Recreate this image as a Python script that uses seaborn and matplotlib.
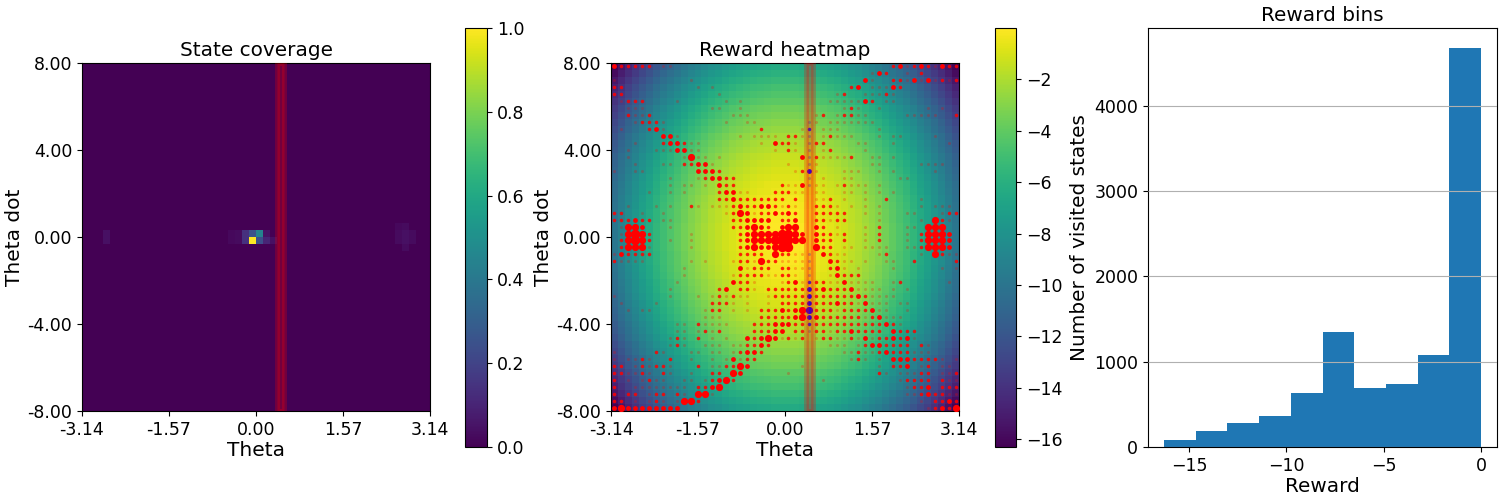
#Pendulum state coverage, reward heatmap and reward bins

import numpy as np
import pandas as pd
import matplotlib
matplotlib.use('Agg')
import matplotlib.pyplot as plt
import seaborn as sns

theta_ticks = ['-3.14', '-1.57', '0.00', '1.57', '3.14']
dot_ticks = ['8.00', '4.00', '0.00', '-4.00', '-8.00']

#State coverage, the few cells that are not zero (row from top, column from left)
coverage_rows = [24, 24, 24, 24, 24, 24, 25, 25, 25, 25, 25, 25, 25, 24, 25,
                 23, 23, 24, 24, 24, 25, 25, 25, 26]
coverage_cols = [21, 22, 23, 24, 25, 26, 21, 22, 23, 24, 25, 26, 27, 3, 3,
                 45, 46, 45, 46, 47, 45, 46, 47, 46]
coverage_vals = [0.02, 0.03, 0.14, 0.25, 0.45, 0.05, 0.02, 0.03, 0.14, 1.0, 0.24, 0.10, 0.04, 0.04, 0.04,
                 0.02, 0.03, 0.03, 0.04, 0.03, 0.03, 0.04, 0.03, 0.03]

#Reward loss in one quarter of the grid, from the centre out (rows theta dot, columns theta)
reward_loss = [
    [0.0, 0.0, 0.1, 0.2, 0.3, 0.5, 0.7, 0.9, 1.2, 1.5, 1.8, 2.2, 2.6, 3.0, 3.5, 4.0, 4.5, 5.0, 5.6, 6.3, 6.9, 7.6, 8.3, 9.1, 9.9],
    [0.0, 0.0, 0.1, 0.2, 0.3, 0.5, 0.7, 0.9, 1.2, 1.5, 1.8, 2.2, 2.6, 3.0, 3.5, 4.0, 4.5, 5.0, 5.6, 6.3, 6.9, 7.6, 8.3, 9.1, 9.9],
    [0.1, 0.1, 0.2, 0.3, 0.4, 0.6, 0.8, 1.0, 1.3, 1.6, 1.9, 2.3, 2.7, 3.1, 3.6, 4.1, 4.6, 5.1, 5.7, 6.4, 7.0, 7.7, 8.4, 9.2, 10.0],
    [0.1, 0.1, 0.2, 0.3, 0.4, 0.6, 0.8, 1.0, 1.3, 1.6, 1.9, 2.3, 2.7, 3.1, 3.6, 4.1, 4.6, 5.1, 5.7, 6.4, 7.0, 7.7, 8.4, 9.2, 10.0],
    [0.2, 0.2, 0.3, 0.4, 0.5, 0.7, 0.9, 1.1, 1.4, 1.7, 2.0, 2.4, 2.8, 3.2, 3.7, 4.2, 4.7, 5.2, 5.8, 6.5, 7.1, 7.8, 8.5, 9.3, 10.1],
    [0.3, 0.3, 0.4, 0.5, 0.6, 0.8, 1.0, 1.2, 1.5, 1.8, 2.1, 2.5, 2.9, 3.3, 3.8, 4.3, 4.8, 5.3, 5.9, 6.6, 7.2, 7.9, 8.6, 9.4, 10.2],
    [0.5, 0.5, 0.6, 0.7, 0.8, 1.0, 1.2, 1.4, 1.7, 2.0, 2.3, 2.7, 3.1, 3.5, 4.0, 4.5, 5.0, 5.5, 6.1, 6.8, 7.4, 8.1, 8.8, 9.6, 10.4],
    [0.6, 0.6, 0.7, 0.8, 0.9, 1.1, 1.3, 1.5, 1.8, 2.1, 2.4, 2.8, 3.2, 3.6, 4.1, 4.6, 5.1, 5.6, 6.2, 6.9, 7.5, 8.2, 8.9, 9.7, 10.5],
    [0.8, 0.8, 0.9, 1.0, 1.1, 1.3, 1.5, 1.7, 2.0, 2.3, 2.6, 3.0, 3.4, 3.8, 4.3, 4.8, 5.3, 5.8, 6.4, 7.1, 7.7, 8.4, 9.1, 9.9, 10.7],
    [1.0, 1.0, 1.1, 1.2, 1.3, 1.5, 1.7, 1.9, 2.2, 2.5, 2.8, 3.2, 3.6, 4.0, 4.5, 5.0, 5.5, 6.0, 6.6, 7.3, 7.9, 8.6, 9.3, 10.1, 10.9],
    [1.2, 1.2, 1.3, 1.4, 1.5, 1.7, 1.9, 2.1, 2.4, 2.7, 3.0, 3.4, 3.8, 4.2, 4.7, 5.2, 5.7, 6.2, 6.8, 7.5, 8.1, 8.8, 9.5, 10.3, 11.1],
    [1.4, 1.4, 1.5, 1.6, 1.7, 1.9, 2.1, 2.3, 2.6, 2.9, 3.2, 3.6, 4.0, 4.4, 4.9, 5.4, 5.9, 6.4, 7.0, 7.7, 8.3, 9.0, 9.7, 10.5, 11.3],
    [1.7, 1.7, 1.8, 1.9, 2.0, 2.2, 2.4, 2.6, 2.9, 3.2, 3.5, 3.9, 4.3, 4.7, 5.2, 5.7, 6.2, 6.7, 7.3, 8.0, 8.6, 9.3, 10.0, 10.8, 11.6],
    [1.9, 1.9, 2.0, 2.1, 2.2, 2.4, 2.6, 2.8, 3.1, 3.4, 3.7, 4.1, 4.5, 4.9, 5.4, 5.9, 6.4, 6.9, 7.5, 8.2, 8.8, 9.5, 10.2, 11.0, 11.8],
    [2.2, 2.2, 2.3, 2.4, 2.5, 2.7, 2.9, 3.1, 3.4, 3.7, 4.0, 4.4, 4.8, 5.2, 5.7, 6.2, 6.7, 7.2, 7.8, 8.5, 9.1, 9.8, 10.5, 11.3, 12.1],
    [2.6, 2.6, 2.7, 2.8, 2.9, 3.1, 3.3, 3.5, 3.8, 4.1, 4.4, 4.8, 5.2, 5.6, 6.1, 6.6, 7.1, 7.6, 8.2, 8.9, 9.5, 10.2, 10.9, 11.7, 12.5],
    [2.9, 2.9, 3.0, 3.1, 3.2, 3.4, 3.6, 3.8, 4.1, 4.4, 4.7, 5.1, 5.5, 5.9, 6.4, 6.9, 7.4, 7.9, 8.5, 9.2, 9.8, 10.5, 11.2, 12.0, 12.8],
    [3.3, 3.3, 3.4, 3.5, 3.6, 3.8, 4.0, 4.2, 4.5, 4.8, 5.1, 5.5, 5.9, 6.3, 6.8, 7.3, 7.8, 8.3, 8.9, 9.6, 10.2, 10.9, 11.6, 12.4, 13.2],
    [3.6, 3.6, 3.7, 3.8, 3.9, 4.1, 4.3, 4.5, 4.8, 5.1, 5.4, 5.8, 6.2, 6.6, 7.1, 7.6, 8.1, 8.6, 9.2, 9.9, 10.5, 11.2, 11.9, 12.7, 13.5],
    [4.1, 4.1, 4.2, 4.3, 4.4, 4.6, 4.8, 5.0, 5.3, 5.6, 5.9, 6.3, 6.7, 7.1, 7.6, 8.1, 8.6, 9.1, 9.7, 10.4, 11.0, 11.7, 12.4, 13.2, 14.0],
    [4.5, 4.5, 4.6, 4.7, 4.8, 5.0, 5.2, 5.4, 5.7, 6.0, 6.3, 6.7, 7.1, 7.5, 8.0, 8.5, 9.0, 9.5, 10.1, 10.8, 11.4, 12.1, 12.8, 13.6, 14.4],
    [4.9, 4.9, 5.0, 5.1, 5.2, 5.4, 5.6, 5.8, 6.1, 6.4, 6.7, 7.1, 7.5, 7.9, 8.4, 8.9, 9.4, 9.9, 10.5, 11.2, 11.8, 12.5, 13.2, 14.0, 14.8],
    [5.4, 5.4, 5.5, 5.6, 5.7, 5.9, 6.1, 6.3, 6.6, 6.9, 7.2, 7.6, 8.0, 8.4, 8.9, 9.4, 9.9, 10.4, 11.0, 11.7, 12.3, 13.0, 13.7, 14.5, 15.3],
    [5.9, 5.9, 6.0, 6.1, 6.2, 6.4, 6.6, 6.8, 7.1, 7.4, 7.7, 8.1, 8.5, 8.9, 9.4, 9.9, 10.4, 10.9, 11.5, 12.2, 12.8, 13.5, 14.2, 15.0, 15.8],
    [6.4, 6.4, 6.5, 6.6, 6.7, 6.9, 7.1, 7.3, 7.6, 7.9, 8.2, 8.6, 9.0, 9.4, 9.9, 10.4, 10.9, 11.4, 12.0, 12.7, 13.3, 14.0, 14.7, 15.5, 16.3],
]

#Visits per cell as size levels 0-5, one string per row, top row first
visit_rows = [
    '3222220110 0000000000 0000000000 0000000000 2312321322',
    '0000000000 0000000000 0000000000 0000000132 0010200000',
    '1000000000 0100000000 0000000000 0000003100 2213131212',
    '2200000000 0010100000 0000000000 0000230111 3200000000',
    '2200000000 0000010000 0000000000 0012001112 1000000000',
    '0122200001 0000001010 0000000000 0111113201 1000000000',
    '0011100000 0000110010 0000000000 0001210010 0000010100',
    '0021120000 0000000111 0000000001 2012211000 0011111002',
    '0001222100 0000001001 1000000011 0111111100 0000000000',
    '0100023100 0000000000 0200000120 1110000010 0000000000',
    '0000000331 0000000010 1111022110 1211100010 1100001000',
    '0001000233 2110000000 0103221012 2000011000 1000000010',
    '0010001113 3110000000 0001021010 1200001000 0000000000',
    '0010000000 1411010000 0000000312 1111200110 1000000000',
    '0001000110 2233100000 0000010011 0000000110 0000111100',
    '1001100000 0033320000 0000001231 0001110010 1000001000',
    '0000000010 0012332200 0000000010 1001100000 0110000000',
    '0000000010 1101032200 0000211311 1012111010 0000000000',
    '0000010010 1000023311 0002221101 1001101010 1000000000',
    '0000000000 0000022322 2222202001 1201001002 0000100000',
    '0010001010 0210111232 2332121002 2210101010 0000101110',
    '2200100100 0000001243 1223232002 2222001010 0011000122',
    '2223220110 0000000223 3330223002 2122000010 0000104210',
    '0144300010 0000000223 4320344003 2010001020 0011044400',
    '0145420000 0100000023 4444554303 2212001020 0010244430',
    '0245420010 0100000023 4445554403 2202001020 0010244430',
    '0244410000 0100000023 4334550004 2201101111 0011244430',
    '1322220000 0000000022 2204221110 3211000012 0000104211',
    '2111100000 0101000122 1422111110 0321101001 1002000002',
    '0000000000 1000000031 2220221110 0231010000 1000000101',
    '0000000000 1000000122 2211221010 0132220000 0000000000',
    '0000000001 0000000322 1000123122 2113111100 1200000010',
    '0000000010 0000023022 1022222232 3222311110 1010000000',
    '1000000010 0010121211 0012222232 2222232111 1000000000',
    '0100001000 0000222101 0010222232 2232213111 0110000000',
    '0010110000 0001220101 0222323442 2212222311 0010000000',
    '0000000000 0001110000 0222223433 2222221231 1100000000',
    '0000000001 1021111000 2223332222 2222222223 2100000000',
    '0000000001 1012120000 2223302212 2122322220 3222000000',
    '0000000012 1020101003 2343121201 2211213122 3231000000',
    '0000000012 1001110112 2320000000 0111012332 2220210000',
    '1000002100 0110110123 3200000000 0001121123 2221110000',
    '1011210020 0100101312 2000000000 0000121010 3332222101',
    '2201212210 0020112243 0000000100 0000000010 2230120110',
    '2211210210 0100220430 0000010000 0000000021 0111220112',
    '2010121100 1101234200 0000000000 1000000000 0122220211',
    '2001111111 1022340000 0000000000 0000000000 0012230222',
    '2022012202 1044100000 0000000000 0000000000 0011232211',
    '2201012101 4420000000 0000000000 0000000000 0000102232',
    '3433333333 0000000000 0000000000 0000000000 0000012324',
]

#Reward bins
bin_edges = [-16.3, -14.67, -13.04, -11.41, -9.78, -8.15, -6.52, -4.89, -3.26, -1.63, 0.0]
bin_counts = [86, 191, 285, 367, 637, 1350, 694, 741, 1080, 4680]

#Column that the band and the blue dots mark
marked_col = 28

dot_sizes = {1: 5, 2: 6.5, 3: 12, 4: 27, 5: 46}
dot_alpha = {1: 0.25, 2: 0.85, 3: 1, 4: 1, 5: 1}

plt.rcParams['font.size'] = 12.5

fig = plt.figure(figsize = (15, 5), dpi = 100)

def box(x0, y0, x1, y1):
    return fig.add_axes([x0 / 1500, 1 - y1 / 500, (x1 - x0) / 1500, (y1 - y0) / 500])

def finish_map(ax, title):
    ax.axvspan(marked_col, marked_col + 1, color = 'red', alpha = 0.25, lw = 3.5, zorder = 5)
    ax.set_xlim(0, 50)
    ax.set_ylim(50, 0)
    ax.set_xticks([0, 12.5, 25, 37.5, 50])
    ax.set_xticklabels(theta_ticks, rotation = 0)
    ax.set_yticks([0, 12.5, 25, 37.5, 50])
    ax.set_yticklabels(dot_ticks, rotation = 0, va = 'center_baseline')
    ax.set_xlabel('Theta', fontsize = 14.5, labelpad = 1.5)
    ax.set_ylabel('Theta dot', fontsize = 14.5, labelpad = 2.5)
    ax.set_title(title, fontsize = 14.4, pad = 5)
    ax.tick_params(labelsize = 12.5)
    for spine in ax.spines.values():
        spine.set_visible(True)

#State coverage
coverage = np.zeros((50, 50))
coverage[coverage_rows, coverage_cols] = coverage_vals

ax1 = box(82, 63, 430, 411)
cax1 = box(465, 28, 487, 447)
sns.heatmap(coverage, cmap = 'viridis', vmin = 0, vmax = 1, ax = ax1, cbar_ax = cax1)
finish_map(ax1, 'State coverage')
cb1 = ax1.collections[0].colorbar
cb1.set_ticks([0, 0.2, 0.4, 0.6, 0.8, 1.0])
cb1.outline.set_linewidth(0.8)
cb1.ax.tick_params(labelsize = 12.5)

#Reward heatmap
quarter = -np.array(reward_loss)
half = np.vstack([quarter[::-1], quarter])
reward = np.hstack([half[:, ::-1], half])

ax2 = box(611, 63, 959, 411)
cax2 = box(995, 28, 1016, 447)
sns.heatmap(reward, cmap = 'viridis', vmin = -16.3, vmax = 0, ax = ax2, cbar_ax = cax2)

levels = np.array([[int(ch) for ch in row.replace(' ', '')] for row in visit_rows])
rows, cols = np.nonzero(levels)
dots = pd.DataFrame({'x': cols + 0.5, 'y': rows + 0.5, 'level': levels[rows, cols], 'col': cols})

for level in [1, 2, 3, 4, 5]:
    part = dots[dots['level'] == level]
    sns.scatterplot(data = part[part['col'] != marked_col], x = 'x', y = 'y', color = 'red', s = dot_sizes[level],
                    alpha = dot_alpha[level], linewidth = 0, ax = ax2, legend = False, zorder = 3)
    sns.scatterplot(data = part[part['col'] == marked_col], x = 'x', y = 'y', color = 'blue', s = dot_sizes[level],
                    alpha = dot_alpha[level], linewidth = 0, ax = ax2, legend = False, zorder = 3)

finish_map(ax2, 'Reward heatmap')
cb2 = ax2.collections[0].colorbar
cb2.set_ticks([-2, -4, -6, -8, -10, -12, -14, -16])
cb2.outline.set_linewidth(0.8)
cb2.ax.tick_params(labelsize = 12.5)

#Reward bins
ax3 = box(1148, 28, 1497, 447)
sns.histplot(x = bin_edges[:-1], weights = bin_counts, bins = bin_edges, color = '#1f77b4', alpha = 1,
             edgecolor = 'none', linewidth = 0, ax = ax3)
ax3.grid(axis = 'y', color = '#b0b0b0', linewidth = 0.8)
ax3.set_axisbelow(False)
ax3.set_xticks([-15, -10, -5, 0])
ax3.set_yticks([0, 1000, 2000, 3000, 4000])
ax3.set_xlabel('Reward', fontsize = 14.4, labelpad = 1.5)
ax3.set_ylabel('Number of visited states', fontsize = 14.4, labelpad = 3.5)
ax3.set_title('Reward bins', fontsize = 14.4, pad = 5)
ax3.tick_params(labelsize = 12.5)

fig.savefig('out.png', dpi = 100)
